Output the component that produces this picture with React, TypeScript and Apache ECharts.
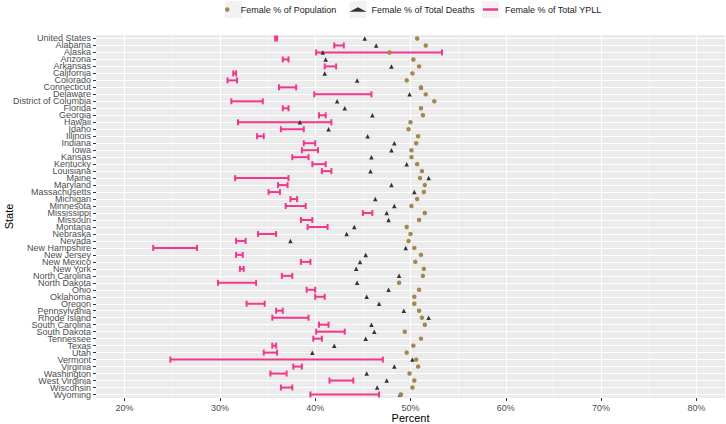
import React, { useEffect, useRef } from 'react';
import * as echarts from 'echarts';

const states = [
  'United States', 'Alabama', 'Alaska', 'Arizona', 'Arkansas', 'California', 'Colorado',
  'Connecticut', 'Delaware', 'District of Columbia', 'Florida', 'Georgia', 'Hawaii', 'Idaho',
  'Illinois', 'Indiana', 'Iowa', 'Kansas', 'Kentucky', 'Louisiana', 'Maine', 'Maryland',
  'Massachusetts', 'Michigan', 'Minnesota', 'Mississippi', 'Missouri', 'Montana', 'Nebraska',
  'Nevada', 'New Hampshire', 'New Jersey', 'New Mexico', 'New York', 'North Carolina',
  'North Dakota', 'Ohio', 'Oklahoma', 'Oregon', 'Pennsylvania', 'Rhode Island',
  'South Carolina', 'South Dakota', 'Tennessee', 'Texas', 'Utah', 'Vermont', 'Virginia',
  'Washington', 'West Virginia', 'Wisconsin', 'Wyoming',
];

const popPct = [
  50.7, 51.6, 47.8, 50.3, 50.9, 50.2, 49.6, 51.1, 51.6, 52.5, 51.1, 51.3, 50.0, 49.8,
  50.8, 50.6, 50.1, 50.1, 50.7, 51.2, 51.0, 51.5, 51.4, 50.7, 50.1, 51.5, 50.9, 49.6, 50.0,
  49.8, 50.4, 51.1, 50.5, 51.4, 51.3, 48.8, 50.9, 50.4, 50.4, 50.9, 51.2,
  51.5, 49.4, 51.1, 50.3, 49.6, 50.6, 50.8, 49.9, 50.4, 50.2, 49.0,
];

const deathPct = [
  45.2, 46.4, 40.8, 41.1, 48.0, 41.0, 44.4, 51.1, 49.9, 42.3, 43.1, 46.0, 38.4, 41.4,
  45.5, 48.3, 48.0, 45.9, 49.6, 45.8, 51.9, 48.0, 50.4, 46.3, 48.3, 47.5, 47.7, 44.1, 43.3,
  37.4, 49.5, 45.3, 44.7, 44.3, 48.8, 44.4, 47.7, 45.4, 46.7, 49.3, 51.9,
  45.9, 46.2, 45.3, 42.0, 39.7, 50.2, 48.3, 45.4, 47.5, 46.5, 48.9,
];

const ypllLow = [
  35.8, 42.0, 40.1, 36.6, 41.0, 31.4, 30.8, 36.2, 39.9, 31.2, 36.6, 40.4, 31.9, 36.4,
  33.9, 38.8, 38.6, 37.6, 39.7, 40.7, 31.6, 36.1, 35.1, 37.4, 36.9, 45.0, 38.5, 39.2, 34.0,
  31.7, 23.0, 31.7, 38.5, 32.1, 36.5, 29.8, 39.1, 40.0, 32.8, 35.9, 35.5,
  40.4, 40.1, 39.8, 35.5, 34.6, 24.8, 37.7, 35.3, 41.5, 36.4, 39.5,
];

const ypllHigh = [
  36.0, 43.0, 53.3, 37.2, 42.2, 31.7, 31.8, 38.0, 45.9, 34.5, 37.2, 41.1, 41.7, 38.8,
  34.6, 40.0, 40.3, 39.3, 41.1, 41.7, 37.2, 37.1, 36.3, 38.1, 39.0, 46.0, 39.7, 41.3, 35.9,
  32.7, 27.6, 32.4, 39.5, 32.5, 37.6, 33.8, 40.0, 41.0, 34.7, 36.6, 39.3,
  41.4, 43.1, 40.7, 35.9, 36.0, 47.1, 38.6, 37.0, 44.0, 37.6, 46.7,
];

const xTicks = [20, 30, 40, 50, 60, 70, 80];
const minorTicks = [25, 35, 45, 55, 65, 75];

const PINK = '#f0388c';
const BROWN = '#a3884d';
const DARK = '#333333';
const FONT = "'Liberation Sans', Arial, sans-serif";

export default function App() {
  const ref = useRef<HTMLDivElement>(null);

  useEffect(() => {
    const chart = echarts.init(ref.current!, null, { renderer: 'svg' });
    const legendText = { fontSize: 9, color: '#1a1a1a', fontFamily: FONT };
    chart.setOption({
      animation: false,
      backgroundColor: '#ffffff',
      textStyle: { fontFamily: FONT },
      grid: {
        left: 96,
        right: 1,
        top: 35,
        bottom: 26,
        show: true,
        backgroundColor: '#ebebeb',
        borderWidth: 0,
        containLabel: false,
        outerBoundsMode: 'none',
      },
      graphic: [
        { type: 'rect', z: 1, shape: { x: 225, y: 1, width: 17, height: 17 }, style: { fill: '#f2f2f2' } },
        { type: 'rect', z: 1, shape: { x: 349.5, y: 1, width: 17, height: 17 }, style: { fill: '#f2f2f2' } },
        { type: 'rect', z: 1, shape: { x: 482, y: 1, width: 17, height: 17 }, style: { fill: '#f2f2f2' } },
      ],
      legend: [
        {
          data: [{ name: 'Female % of Population', icon: 'circle' }],
          left: 225,
          top: 5,
          padding: 0,
          itemWidth: 17,
          itemHeight: 4.5,
          textStyle: legendText,
          selectedMode: false,
        },
        {
          data: [{ name: 'Female % of Total Deaths', icon: 'triangle' }],
          left: 349.5,
          top: 5,
          padding: 0,
          itemWidth: 17,
          itemHeight: 4.5,
          textStyle: legendText,
          selectedMode: false,
        },
        {
          data: [{ name: 'Female % of Total YPLL', icon: 'rect' }],
          left: 483,
          top: 5,
          padding: 0,
          itemWidth: 15,
          itemHeight: 2.5,
          textStyle: { ...legendText, padding: [0, 0, 0, 2] },
          selectedMode: false,
        },
      ],
      xAxis: {
        type: 'value',
        min: 17,
        max: 83,
        name: 'Percent',
        nameLocation: 'middle',
        nameGap: 14,
        nameMoveOverlap: false,
        nameTextStyle: { fontSize: 11, color: '#000000', fontFamily: FONT },
        axisLine: { show: false },
        axisTick: { show: true, length: 3, customValues: xTicks, lineStyle: { color: DARK } },
        axisLabel: {
          customValues: xTicks,
          formatter: (v: number) => `${v}%`,
          fontSize: 9,
          color: '#4d4d4d',
          margin: 5,
          fontFamily: FONT,
        },
        splitLine: { show: true, lineStyle: { color: '#ffffff', width: 1.1 } },
      },
      yAxis: {
        type: 'category',
        data: states,
        inverse: true,
        name: 'State',
        nameLocation: 'middle',
        nameGap: 82,
        nameMoveOverlap: false,
        nameTextStyle: { fontSize: 11, color: '#000000', fontFamily: FONT },
        axisLine: { show: false },
        axisTick: { show: true, length: 3, interval: 0, alignWithLabel: true, lineStyle: { color: DARK } },
        axisLabel: { interval: 0, fontSize: 9, color: '#4d4d4d', margin: 5, fontFamily: FONT },
        splitLine: { show: true, interval: 0, alignWithLabel: true, lineStyle: { color: '#ffffff', width: 1 } },
      },
      series: [
        {
          name: 'Female % of Total YPLL',
          type: 'custom',
          z: 2,
          itemStyle: { color: PINK },
          dimensions: ['idx', 'low', 'high'],
          encode: { y: 0, x: [1, 2] },
          data: states.map((s, i) => [i, ypllLow[i], ypllHigh[i]]),
          renderItem: (params: any, api: any) => {
            const yi = api.value(0);
            const p1 = api.coord([api.value(1), yi]);
            const p2 = api.coord([api.value(2), yi]);
            const h = api.size([0, 1])[1] * 0.43;
            const style = { stroke: PINK, lineWidth: 2, fill: null };
            return {
              type: 'group',
              children: [
                { type: 'line', shape: { x1: p1[0], y1: p1[1], x2: p2[0], y2: p2[1] }, style },
                { type: 'line', shape: { x1: p1[0], y1: p1[1] - h, x2: p1[0], y2: p1[1] + h }, style },
                { type: 'line', shape: { x1: p2[0], y1: p2[1] - h, x2: p2[0], y2: p2[1] + h }, style },
              ],
            };
          },
        },
        {
          name: 'Female % of Total Deaths',
          type: 'scatter',
          z: 3,
          symbol: 'triangle',
          symbolSize: 4.5,
          itemStyle: { color: DARK, opacity: 1 },
          data: states.map((s, i) => [deathPct[i], s]),
          markLine: {
            silent: true,
            z: 1,
            symbol: 'none',
            label: { show: false },
            lineStyle: { color: '#ffffff', width: 0.5, type: 'solid' },
            data: minorTicks.map((v) => ({ xAxis: v })),
          },
        },
        {
          name: 'Female % of Population',
          type: 'scatter',
          z: 4,
          symbol: 'circle',
          symbolSize: 4.5,
          itemStyle: { color: BROWN, opacity: 1 },
          data: states.map((s, i) => [popPct[i], s]),
        },
      ],
    });
    return () => chart.dispose();
  }, []);

  return (
    <div
      ref={ref}
      style={{ position: 'fixed', left: 0, top: 0, width: 726, height: 424 }}
    />
  );
}
